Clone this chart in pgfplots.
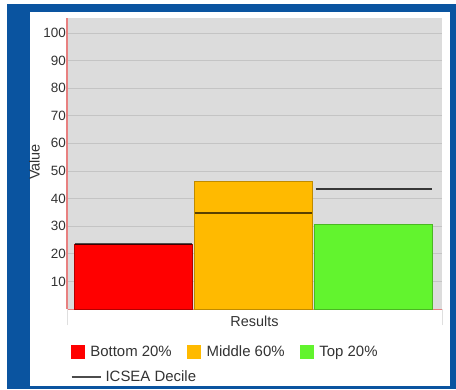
\documentclass[border=0pt]{standalone}
\usepackage{fontspec}
\setmainfont{Liberation Sans}
\usepackage{pgfplots}
\pgfplotsset{compat=1.18}

\definecolor{frameblue}{HTML}{0A54A0}
\definecolor{plotgray}{HTML}{DCDCDC}
\definecolor{gridgray}{HTML}{C4C4C4}
\definecolor{barred}{HTML}{FF0000}
\definecolor{barorange}{HTML}{FFBA00}
\definecolor{bargreen}{HTML}{62F42E}
\definecolor{axisred}{HTML}{E88080}
\definecolor{txt}{HTML}{333333}

\newcommand{\tickfont}{\fontsize{13.5}{15}\selectfont}
\newcommand{\labelfont}{\fontsize{14.5}{16}\selectfont}
\newcommand{\legendfont}{\fontsize{15}{17}\selectfont}

\begin{document}
\begin{tikzpicture}[x=1bp,y=1bp]
\useasboundingbox (0,0) rectangle (456,389);
% frame
\fill[white] (0,0) rectangle (456,389);
\fill[frameblue] (7,0) rectangle (456,385);
\fill[white] (30,3) rectangle (450,377);

\begin{axis}[
  at={(67bp,80bp)}, anchor=south west,
  scale only axis, width=375bp, height=291bp,
  axis background/.style={fill=plotgray},
  xmin=-0.554, xmax=2.575, ymin=0, ymax=105.4,
  ytick={10,20,...,100},
  xtick=\empty,
  extra x ticks={-0.554,2.575},
  extra x tick labels={},
  extra x tick style={major tick length=16bp, tick align=outside,
    tick style={draw=gray!25, line width=0.8bp}},
  ymajorgrids, grid style={draw=gridgray, line width=0.8bp},
  major tick length=0pt,
  ytick style={draw=none},
  axis x line=bottom, axis y line=left,
  axis line style={-},
  x axis line style={draw=axisred, line width=0.9bp},
  y axis line style={draw=axisred, line width=1.3bp},
  /pgf/number format/assume math mode=true,
  yticklabel style={font=\tickfont, text=txt, inner sep=1bp},
  xlabel={Results},
  xlabel style={font=\labelfont, text=txt, at={(axis description cs:0.5,-0.041)}, anchor=center},
  ylabel={Value},
  ylabel style={font=\labelfont, text=txt, at={(axis description cs:-0.087,0.505)}, anchor=center},
  legend columns=3,
  legend style={at={(axis description cs:0.009,-0.118)}, anchor=north west,
    draw=none, fill=none, font=\legendfont, text=txt, inner sep=0pt,
    /tikz/every even column/.append style={column sep=13bp}},
]
\addplot[ybar, bar width=0.985, bar shift=0, fill=barred, draw=barred!70!black, line width=0.8bp,
  legend image code/.code={\fill[barred] (0bp,-6.5bp) rectangle (13bp,6.5bp); \path (17bp,0bp);}]
  coordinates {(0,23.3)};
\addlegendentry{Bottom 20\%}
\addplot[ybar, bar width=0.985, bar shift=0, fill=barorange, draw=barorange!75!black, line width=0.8bp,
  legend image code/.code={\fill[barorange] (0bp,-6.5bp) rectangle (13bp,6.5bp); \path (17bp,0bp);}]
  coordinates {(1,46.3)};
\addlegendentry{Middle 60\%}
\addplot[ybar, bar width=0.985, bar shift=0, fill=bargreen, draw=bargreen!75!black, line width=0.8bp,
  legend image code/.code={\fill[bargreen] (0bp,-6.5bp) rectangle (13bp,6.5bp); \path (17bp,0bp);}]
  coordinates {(2,30.8)};
\addlegendentry{Top 20\%}

% ICSEA decile per band
\addplot[black, opacity=0.65, line width=2.2bp, forget plot]
  coordinates {(-0.49,23.5) (0.49,23.5)};
\addplot[black, opacity=0.65, line width=2.2bp, forget plot]
  coordinates {(0.51,34.8) (1.49,34.8)};
\addplot[black, opacity=0.75, line width=2bp, forget plot]
  coordinates {(1.52,43.4) (2.49,43.4)};
\end{axis}

% second legend row
\begin{axis}[
  at={(67bp,80bp)}, anchor=south west,
  scale only axis, width=375bp, height=291bp,
  hide axis, xmin=0, xmax=1, ymin=0, ymax=1,
  legend style={at={(axis description cs:0.009,-0.205)}, anchor=north west,
    draw=none, fill=none, font=\legendfont, text=txt, inner sep=0pt},
]
\addlegendimage{black!75, line width=2bp,
  legend image code/.code={\draw[black!70, line width=2bp] (0bp,0bp) -- (29bp,0bp); \path (31bp,0bp);}}
\addlegendentry{ICSEA Decile}
\end{axis}
\end{tikzpicture}
\end{document}
